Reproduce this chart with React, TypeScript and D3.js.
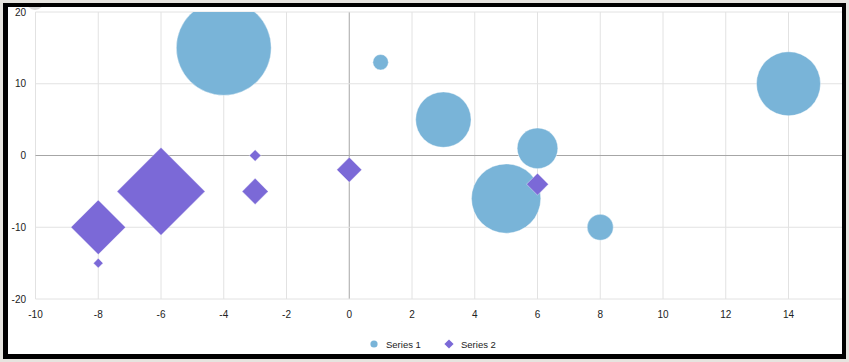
import React from 'react';
import * as d3 from 'd3';

// series 1 (circles) and series 2 (diamonds): x, y, size
const s1X = [-4, 1, 3, 6, 5, 8, 14];
const s1Y = [15, 13, 5, 1, -6, -10, 10];
const s1Z = [90, 2.4, 30.7, 16.5, 48, 6.8, 41];

const s2X = [-8, -8, -6, -3, -3, 0, 6];
const s2Y = [-10, -15, -5, 0, -5, -2, -4];
const s2Z = [29.8, 0.92, 77.4, 1.35, 6.8, 6.25, 4.8];

const xTicks = [-10, -8, -6, -4, -2, 0, 2, 4, 6, 8, 10, 12, 14];
const yTicks = [-20, -10, 0, 10, 20];
const seriesNames = ['Series 1', 'Series 2'];

const W = 849;
const H = 362;
const blue = '#79b4d8';
const purple = '#7b69d7';
const font = '"Liberation Sans", Arial, Helvetica, sans-serif';

const diamond = (cx: number, cy: number, h: number) =>
  `M${cx},${cy - h}L${cx + h},${cy}L${cx},${cy + h}L${cx - h},${cy}Z`;

export default function App() {
  // plot area
  const left = 35.5;
  const right = 842;
  const top = 12;
  const bottom = 299;

  const x = d3.scaleLinear().domain([-10, 14]).range([left, 788.5]);
  const y = d3.scaleLinear().domain([-20, 20]).range([bottom, top]);
  const r = d3.scaleSqrt().domain([0, 100]).range([0, 50]);

  const s1 = s1X.map((v, i) => ({ x: v, y: s1Y[i], z: s1Z[i] }));
  const s2 = s2X.map((v, i) => ({ x: v, y: s2Y[i], z: s2Z[i] }));

  return (
    <svg width={W} height={H} style={{ position: 'fixed', left: 0, top: 0 }}>
      <defs>
        <clipPath id="plot">
          <rect x={left} y={top} width={right - left} height={bottom - top} />
        </clipPath>
        <clipPath id="inner">
          <rect x={8} y={7} width={834} height={347} />
        </clipPath>
      </defs>
      {/* page background + frame */}
      <rect width={W} height={H} fill="#e6e4df" />
      <rect x={3} y={3} width={843} height={356} fill="#000" />
      <rect x={8} y={7} width={834} height={347} fill="#fff" />
      <circle cx={35} cy={1} r={9} fill="#d9d9d9" clipPath="url(#inner)" />

      {/* grid */}
      <g clipPath="url(#inner)">
        {xTicks.map(t => (
          <line key={'gx' + t} x1={x(t)} x2={x(t)} y1={top} y2={bottom}
            stroke={t === 0 ? '#a6a6a6' : '#e2e2e2'} strokeWidth={1} />
        ))}
        {yTicks.map(t => (
          <line key={'gy' + t} x1={left} x2={right} y1={y(t)} y2={y(t)}
            stroke={t === 0 ? '#a6a6a6' : '#e2e2e2'} strokeWidth={1} />
        ))}
      </g>

      {/* marks */}
      <g clipPath="url(#plot)">
        {s1.map((d, i) => (
          <circle key={'c' + i} cx={x(d.x)} cy={y(d.y)} r={r(d.z)} fill={blue}
            stroke="#fff" strokeOpacity={0.4} strokeWidth={1} />
        ))}
        {s2.map((d, i) => (
          <path key={'d' + i} d={diamond(x(d.x), y(d.y), r(d.z))} fill={purple}
            stroke="#fff" strokeOpacity={0.4} strokeWidth={1} />
        ))}
      </g>

      {/* axis labels */}
      <g fontFamily={font} fontSize={10} fill="#222">
        {xTicks.map(t => (
          <text key={'tx' + t} x={x(t)} y={317.5} textAnchor="middle">{t}</text>
        ))}
        {yTicks.map(t => (
          <text key={'ty' + t} x={26} y={y(t) + 3.5} textAnchor="end">{t}</text>
        ))}
      </g>

      {/* legend */}
      <g fontFamily={font} fontSize={9.5} fill="#222">
        <circle cx={374} cy={344} r={3.6} fill={blue} />
        <text x={386} y={347.5}>{seriesNames[0]}</text>
        <path d={diamond(449, 344, 4.6)} fill={purple} />
        <text x={461} y={347.5}>{seriesNames[1]}</text>
      </g>
    </svg>
  );
}
